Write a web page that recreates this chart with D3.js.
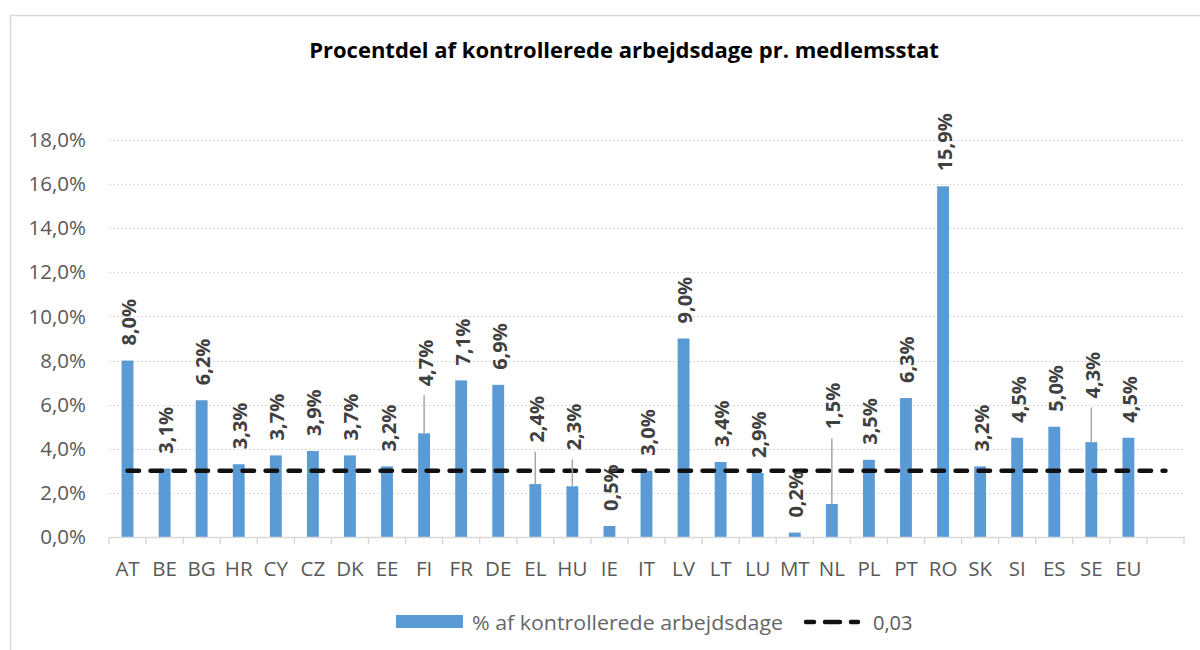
<!DOCTYPE html>
<html>
<head>
<meta charset="utf-8">
<script src="https://cdn.jsdelivr.net/npm/d3@7"></script>
<style>
  html, body { margin: 0; padding: 0; background: #fff; }
  svg { display: block; font-family: "Open Sans", sans-serif; }
</style>
</head>
<body>
<svg id="chart" width="1200" height="650"></svg>
<script>
// ---- data ----
const title = "Procentdel af kontrollerede arbejdsdage pr. medlemsstat";
const categories = ["AT","BE","BG","HR","CY","CZ","DK","EE","FI","FR","DE","EL","HU","IE","IT","LV","LT","LU","MT","NL","PL","PT","RO","SK","SI","ES","SE","EU",""];
const values = [0.080,0.031,0.062,0.033,0.037,0.039,0.037,0.032,0.047,0.071,0.069,0.024,0.023,0.005,0.030,0.090,0.034,0.029,0.002,0.015,0.035,0.063,0.159,0.032,0.045,0.050,0.043,0.045,null];
const threshold = [0.03,0.03,0.03,0.03,0.03,0.03,0.03,0.03,0.03,0.03,0.03,0.03,0.03,0.03,0.03,0.03,0.03,0.03,0.03,0.03,0.03,0.03,0.03,0.03,0.03,0.03,0.03,0.03,0.03];
const yTicks = [0,0.02,0.04,0.06,0.08,0.10,0.12,0.14,0.16,0.18];
const seriesNames = ["% af kontrollerede arbejdsdage", "0,03"];
// labels that were dragged upward (in value units), shown with leader lines
const labelRaise = {FI: 0.0145, EL: 0.012, HU: 0.0095, NL: 0.027, SE: 0.013};

// ---- layout ----
const svg = d3.select("#chart");
const plot = {left: 109, right: 1184, top: 140, bottom: 537};
const fmtPct = d => d3.format(".1f")(d * 100).replace(".", ",") + "%";

const x = d3.scaleBand().domain(categories.map((c, i) => i)).range([plot.left, plot.right]).padding(0);
const y = d3.scaleLinear().domain([0, 0.18]).range([plot.bottom, plot.top]);
const barW = x.bandwidth() * 0.32;
const cx = i => x(i) + x.bandwidth() / 2;

// chart border
svg.append("rect").attr("x", 10.5).attr("y", 15.5).attr("width", 1200).attr("height", 700)
  .attr("fill", "none").attr("stroke", "#d9d9d9").attr("stroke-width", 1.5);

// title
svg.append("text").attr("x", 624).attr("y", 58).attr("text-anchor", "middle")
  .attr("font-family", "Open Sans").attr("font-weight", 700).attr("font-size", 22)
  .attr("fill", "#000").text(title);

// gridlines
svg.append("g").selectAll("line").data(yTicks.slice(1)).join("line")
  .attr("x1", plot.left).attr("x2", plot.right)
  .attr("y1", d => Math.round(y(d)) + 0.5).attr("y2", d => Math.round(y(d)) + 0.5)
  .attr("stroke", "#d9d9d9").attr("stroke-width", 1).attr("stroke-dasharray", "2,2");

// y axis labels
const yAxis = d3.axisLeft(y).tickValues(yTicks).tickFormat(fmtPct).tickSize(0).tickPadding(0);
const gy = svg.append("g").attr("transform", `translate(86,0)`).call(yAxis);
gy.select(".domain").remove();
gy.selectAll("text").attr("font-family", "Open Sans").attr("font-size", 20.5).attr("fill", "#595959");

// bars
svg.append("g").selectAll("rect").data(values.map((v, i) => ({v, i})).filter(d => d.v != null)).join("rect")
  .attr("x", d => cx(d.i) - barW / 2).attr("width", barW)
  .attr("y", d => y(d.v)).attr("height", d => y(0) - y(d.v))
  .attr("fill", "#5b9bd5");

// x axis
const xAxis = d3.axisBottom(x).tickFormat(i => categories[i]).tickSize(0).tickPadding(0);
const gx = svg.append("g").attr("transform", `translate(0,${plot.bottom})`).call(xAxis);
gx.select(".domain").attr("stroke", "#d9d9d9").attr("stroke-width", 1.5);
gx.selectAll("text").attr("font-family", "Open Sans").attr("font-size", 20.5).attr("fill", "#595959")
  .attr("y", 39).attr("dy", 0);
// category separators
const bounds = categories.map((c, i) => x(i)).concat([plot.right]);
gx.append("g").selectAll("line").data(bounds).join("line")
  .attr("x1", d => d).attr("x2", d => d).attr("y1", 0).attr("y2", 7)
  .attr("stroke", "#d9d9d9").attr("stroke-width", 1.5);

// threshold dashed line
const line = d3.line().x((d, i) => cx(i)).y(d => y(d));
svg.append("path").datum(threshold).attr("d", line)
  .attr("fill", "none").attr("stroke", "#111").attr("stroke-width", 4.5)
  .attr("stroke-linecap", "round").attr("stroke-dasharray", "11.5,11.5");

// data labels
const lab = svg.append("g");
values.forEach((v, i) => {
  if (v == null) return;
  const raise = labelRaise[categories[i]] || 0;
  const base = y(v) - 15 - (y(0) - y(raise));
  if (raise) {
    lab.append("line").attr("x1", cx(i)).attr("x2", cx(i))
      .attr("y1", base + 9).attr("y2", y(v))
      .attr("stroke", "#a6a6a6").attr("stroke-width", 1.5);
  }
  lab.append("text")
    .attr("transform", `translate(${cx(i) + 1},${base}) rotate(-90)`)
    .attr("text-anchor", "start").attr("dominant-baseline", "central")
    .attr("font-family", "Open Sans").attr("font-weight", 700).attr("font-size", 20)
    .attr("fill", "#404040").text(fmtPct(v));
});

// legend
const lg = svg.append("g");
lg.append("rect").attr("x", 396).attr("y", 615).attr("width", 67).attr("height", 13).attr("fill", "#5b9bd5");
lg.append("text").attr("x", 472).attr("y", 622).attr("dominant-baseline", "central")
  .attr("font-family", "Open Sans").attr("font-size", 20).attr("fill", "#666")
  .attr("textLength", 311).attr("lengthAdjust", "spacingAndGlyphs").text(seriesNames[0]);
lg.append("line").attr("x1", 806).attr("x2", 858).attr("y1", 622).attr("y2", 622)
  .attr("stroke", "#111").attr("stroke-width", 4.5).attr("stroke-linecap", "round").attr("stroke-dasharray", "8,11,15,11");
lg.append("text").attr("x", 873).attr("y", 622).attr("dominant-baseline", "central")
  .attr("font-family", "Open Sans").attr("font-size", 20).attr("fill", "#595959").text(seriesNames[1]);
</script>
</body>
</html>
